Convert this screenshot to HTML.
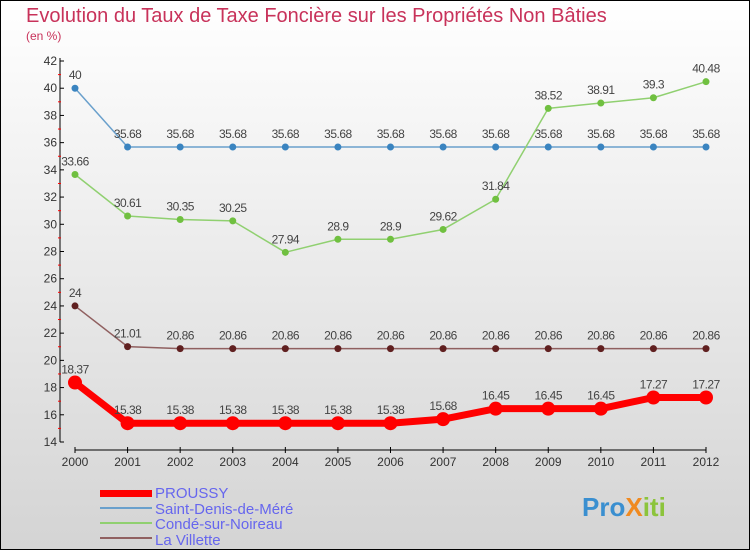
<!DOCTYPE html>
<html><head><meta charset="utf-8"><style>
body{margin:0}
#c{width:750px;height:550px;position:relative;font-family:"Liberation Sans",sans-serif;overflow:hidden}
</style></head><body>
<div id="c">
<svg id="s" width="750" height="550" xmlns="http://www.w3.org/2000/svg">
<defs><linearGradient id="bg" x1="0" y1="0" x2="0" y2="1"><stop offset="0" stop-color="#ffffff"/><stop offset="1" stop-color="#d4d4d4"/></linearGradient></defs>
<rect x="0.5" y="0.5" width="749" height="549" fill="url(#bg)" stroke="#000"/>
<text x="26" y="22" font-size="20" fill="#c8325a">Evolution du Taux de Taxe Foncière sur les Propriétés Non Bâties</text>
<text x="26" y="40" font-size="12" fill="#c8325a">(en %)</text>
<g id="axes"></g><g id="series"></g>
<g>
<rect x="100" y="490" width="52" height="7" fill="#f00"/>
<text x="155" y="498" font-size="15" fill="#6666ee">PROUSSY</text>
<line x1="100" y1="508" x2="152" y2="508" stroke="#6aa0cc" stroke-width="2"/>
<text x="155" y="514" font-size="15" fill="#6666ee">Saint-Denis-de-Méré</text>
<line x1="100" y1="523" x2="152" y2="523" stroke="#90d070" stroke-width="2"/>
<text x="155" y="529" font-size="15" fill="#6666ee">Condé-sur-Noireau</text>
<line x1="100" y1="538" x2="152" y2="538" stroke="#906060" stroke-width="2"/>
<text x="155" y="545" font-size="15" fill="#6666ee">La Villette</text>
</g>
<text x="582" y="516" font-size="26" font-weight="bold" fill="#3a8fd0">Pro<tspan fill="#f08a20">X</tspan><tspan fill="#8cc43c">iti</tspan></text>
</svg>
</div>
<script>
const years=[2000,2001,2002,2003,2004,2005,2006,2007,2008,2009,2010,2011,2012];
const proussy=[18.37,15.38,15.38,15.38,15.38,15.38,15.38,15.68,16.45,16.45,16.45,17.27,17.27];
const saintDenis=[40,35.68,35.68,35.68,35.68,35.68,35.68,35.68,35.68,35.68,35.68,35.68,35.68];
const conde=[33.66,30.61,30.35,30.25,27.94,28.9,28.9,29.62,31.84,38.52,38.91,39.3,40.48];
const villette=[24,21.01,20.86,20.86,20.86,20.86,20.86,20.86,20.86,20.86,20.86,20.86,20.86];
const yTicks=[14,16,18,20,22,24,26,28,30,32,34,36,38,40,42];
const NS="http://www.w3.org/2000/svg";
const xs=i=>75+i*(706-75)/(years.length-1);
const ys=v=>442-(v-14)*(442-61)/28;
function mk(t,a,p){const e=document.createElementNS(NS,t);for(const k in a)e.setAttribute(k,a[k]);p.appendChild(e);return e;}
const ax=document.getElementById('axes');
mk('line',{x1:60,y1:58,x2:60,y2:442,stroke:'#000'},ax);
mk('line',{x1:75,y1:450,x2:706,y2:450,stroke:'#000'},ax);
yTicks.forEach((v,i)=>{
 mk('line',{x1:60,y1:ys(v),x2:64,y2:ys(v),stroke:'#000'},ax);
 if(i<yTicks.length-1)mk('line',{x1:58,y1:ys(v+1),x2:61,y2:ys(v+1),stroke:'#f00'},ax);
 const t=mk('text',{x:57,y:ys(v)+4,'font-size':12,fill:'#333','text-anchor':'end'},ax);t.textContent=v;
 
 
});
years.forEach((y,i)=>{
 mk('line',{x1:xs(i),y1:447,x2:xs(i),y2:453,stroke:'#000'},ax);
 const t=mk('text',{x:xs(i),y:466,'font-size':12,fill:'#333','text-anchor':'middle'},ax);t.textContent=y;
 
 
});
const sg=document.getElementById('series');
function draw(name,data,col,dot,w,r){
 const g=mk('g',{},sg);
 
 
 mk('polyline',{points:data.map((v,i)=>xs(i)+','+ys(v)).join(' '),fill:'none',stroke:col,'stroke-width':w,'stroke-linejoin':'round'},g);
 data.forEach((v,i)=>{
  const c=mk('circle',{cx:xs(i),cy:ys(v),r:r,fill:dot},g);
  
  
  const t=mk('text',{x:xs(i),y:ys(v)-9,'font-size':12,fill:'#444','text-anchor':'middle','letter-spacing':'-0.5'},g);t.textContent=v;
  
  
 });
}
draw('series-saint-denis',saintDenis,'#6aa0cc','#3a84c0',1.5,3.5);
draw('series-conde',conde,'#90d070','#70c040',1.5,3.5);
draw('series-la-villette',villette,'#906060','#602020',1.5,3.5);
draw('series-proussy',proussy,'#f00','#f00',7,7);
</script>
</body></html>
